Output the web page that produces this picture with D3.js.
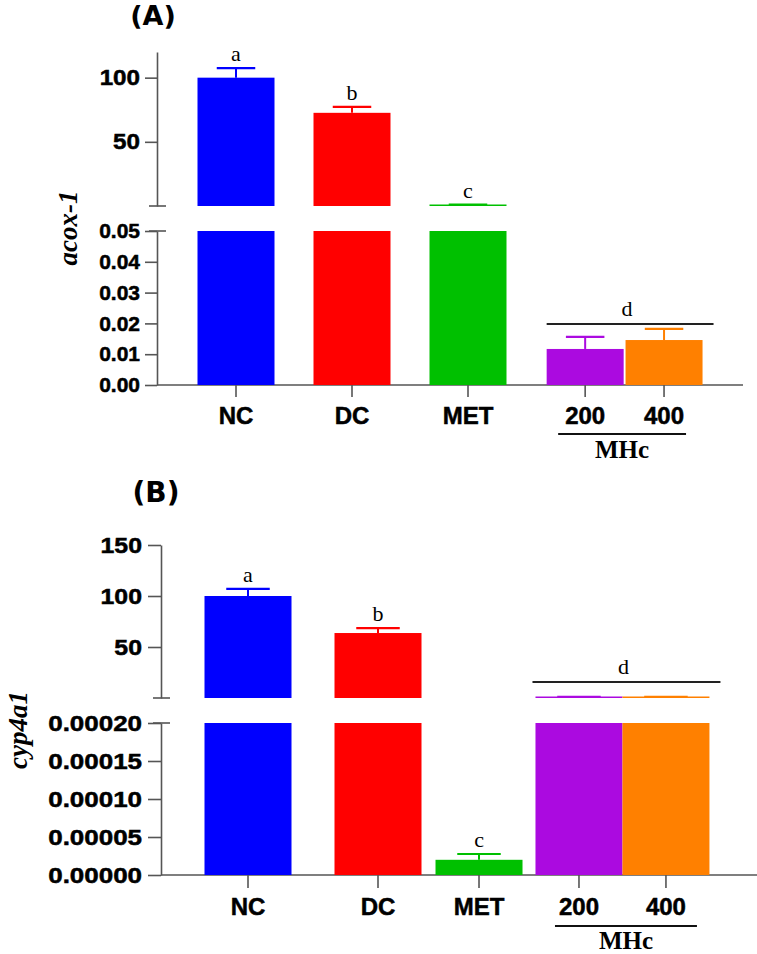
<!DOCTYPE html>
<html><head><meta charset="utf-8">
<script src="https://cdn.jsdelivr.net/npm/d3@7"></script>
<style>body{margin:0;background:#fff} svg{display:block}</style>
</head><body><svg id="c" width="757" height="954"></svg>
<script>
// ---------- data ----------
const categories = ["NC", "DC", "MET", "200", "400"];
const groupLabel = "MHc";
const barColors = ["#0000FF", "#FF0000", "#00C000", "#AB0AE0", "#FF8000"];

// Panel A: acox-1
const acoxValues = [100, 72.6, 0.3, 0.0117, 0.0146];
const acoxErrors = [7.5, 4.7, 0.8, 0.0039, 0.0036];
const acoxLetters = ["a", "b", "c"];
const acoxGroupLetter = "d";
const acoxGroupLineValue = 0.0198;      // on the lower segment
const acoxUpperTicks = [50, 100];
const acoxLowerTicks = [0, 0.01, 0.02, 0.03, 0.04, 0.05];

// Panel B: cyp4a1
const cypValues = [100, 63.7, 0.00002, 0.5, 0.5];
const cypErrors = [7, 4.9, 0.0000076, 0.6, 0.6];
const cypLetters = ["a", "b", "c"];
const cypGroupLetter = "d";
const cypGroupLineValue = 15.7;         // on the upper segment
const cypUpperTicks = [50, 100, 150];
const cypLowerTicks = [0, 0.00005, 0.0001, 0.00015, 0.0002];

// ---------- layout ----------
const panels = [
  {
    title: "(A)", titleX: 153, titleY: 25, titleSize: 27,
    ylabel: "acox-1", ylabelX: 77, ylabelY: 228,
    values: acoxValues, errors: acoxErrors, letters: acoxLetters,
    groupLetter: acoxGroupLetter, groupLineValue: acoxGroupLineValue, groupLineSeg: "lower",
    upperTicks: acoxUpperTicks, lowerTicks: acoxLowerTicks,
    upperFmt: d3.format("d"), lowerFmt: d3.format(".2f"),
    upperDomain: [0, 120], upperRange: [206, 52],
    lowerDomain: [0, 0.05], lowerRange: [385, 231],
    axisX: 157, axisRight: 743, tickLen: 12, tickPad: 5,
    upperFont: 22, upperStretch: 1.1, lowerFont: 21, lowerStretch: 1.0,
    slots: [0, 1, 2, 3.01, 3.69], slotRange: [236, 352], barW: 77,
    labelY: 424, groupLineExt: [0, 11], underlineExt: [-27, 22], underlineY: 434,
    groupTextY: 458
  },
  {
    title: "(B)", titleX: 156, titleY: 502, titleSize: 28,
    ylabel: "cyp4a1", ylabelX: 27, ylabelY: 730,
    values: cypValues, errors: cypErrors, letters: cypLetters,
    groupLetter: cypGroupLetter, groupLineValue: cypGroupLineValue, groupLineSeg: "upper",
    upperTicks: cypUpperTicks, lowerTicks: cypLowerTicks,
    upperFmt: d3.format("d"), lowerFmt: d3.format(".5f"),
    upperDomain: [0, 150], upperRange: [698, 545],
    lowerDomain: [0, 0.0002], lowerRange: [875, 723],
    axisX: 161, axisRight: 757, tickLen: 13, tickPad: 6,
    upperFont: 22, upperStretch: 1.13, lowerFont: 22, lowerStretch: 1.18,
    slots: [0, 1, 1.777, 2.546, 3.215], slotRange: [248, 378], barW: 87,
    labelY: 915, groupLineExt: [-3, 11], underlineExt: [-24, 31], underlineY: 926,
    groupTextY: 949
  }
];

const svg = d3.select("#c");
const axisColor = "#555";
const sansBold = "'Liberation Sans', Arial, sans-serif";
const serif = "'Liberation Serif', 'Times New Roman', serif";

panels.forEach(p => {
  const g = svg.append("g");
  const yU = d3.scaleLinear().domain(p.upperDomain).range(p.upperRange);
  const yL = d3.scaleLinear().domain(p.lowerDomain).range(p.lowerRange);
  const xs = d3.scaleLinear().domain([0, 1]).range(p.slotRange);
  const cx = i => xs(p.slots[i]);
  const lowerMax = p.lowerDomain[1];

  // title
  g.append("text").attr("x", p.titleX).attr("y", p.titleY)
    .attr("text-anchor", "middle")
    .style("font-family", "'DejaVu Sans', Verdana, sans-serif")
    .style("font-weight", "bold").style("font-size", p.titleSize + "px")
    .text(p.title);

  // y label
  g.append("text")
    .attr("transform", `translate(${p.ylabelX},${p.ylabelY}) rotate(-90)`)
    .attr("text-anchor", "middle")
    .style("font-family", serif).style("font-style", "italic")
    .style("font-weight", "bold").style("font-size", "27px")
    .text(p.ylabel);

  // y axes
  function drawY(scale, ticks, fmt, fontSize, stretch) {
    const ax = g.append("g").attr("transform", `translate(${p.axisX},0)`)
      .call(d3.axisLeft(scale).tickValues(ticks).tickFormat(fmt)
        .tickSize(p.tickLen).tickSizeOuter(0).tickPadding(p.tickPad));
    ax.select(".domain").attr("stroke", axisColor).attr("stroke-width", 1.6);
    ax.selectAll(".tick line").attr("stroke", axisColor).attr("stroke-width", 1.6);
    ax.selectAll(".tick text")
      .attr("fill", "#000").attr("stroke", "#000").attr("stroke-width", 0.5)
      .style("font-family", sansBold).style("font-weight", "bold")
      .style("font-size", fontSize + "px")
      .attr("x", -(p.tickLen + p.tickPad) / stretch)
      .attr("transform", `scale(${stretch},1)`);
    return ax;
  }
  drawY(yU, p.upperTicks, p.upperFmt, p.upperFont, p.upperStretch);
  drawY(yL, p.lowerTicks, p.lowerFmt, p.lowerFont, p.lowerStretch);

  // break marks
  g.append("line").attr("x1", p.axisX - 8).attr("x2", p.axisX + 9)
    .attr("y1", yU(p.upperDomain[0])).attr("y2", yU(p.upperDomain[0]))
    .attr("stroke", axisColor).attr("stroke-width", 1.6);
  g.append("line").attr("x1", p.axisX - 8).attr("x2", p.axisX + 9)
    .attr("y1", yL(lowerMax)).attr("y2", yL(lowerMax))
    .attr("stroke", axisColor).attr("stroke-width", 1.6);

  // x axis
  const baseY = yL(0);
  g.append("line").attr("x1", p.axisX).attr("x2", p.axisRight)
    .attr("y1", baseY).attr("y2", baseY)
    .attr("stroke", axisColor).attr("stroke-width", 1.6);
  categories.forEach((c, i) => {
    g.append("line").attr("x1", cx(i)).attr("x2", cx(i))
      .attr("y1", baseY).attr("y2", baseY + p.tickLen)
      .attr("stroke", axisColor).attr("stroke-width", 1.6);
    g.append("text").attr("x", cx(i)).attr("y", p.labelY)
      .attr("text-anchor", "middle")
      .attr("stroke", "#000").attr("stroke-width", 0.5)
      .style("font-family", sansBold).style("font-weight", "bold")
      .style("font-size", "24px").text(c);
  });

  // bars
  p.values.forEach((v, i) => {
    const col = barColors[i];
    const x0 = cx(i) - p.barW / 2;
    // lower segment
    const vl = Math.min(v, lowerMax);
    g.append("rect").attr("x", x0).attr("width", p.barW)
      .attr("y", yL(vl)).attr("height", yL(0) - yL(vl))
      .attr("fill", col);
    let ys = yL;
    if (v > lowerMax) {
      ys = yU;
      const top = Math.min(yU(v), yU(0) - 1.5);
      g.append("rect").attr("x", x0).attr("width", p.barW)
        .attr("y", top).attr("height", yU(0) - top)
        .attr("fill", col);
    }
    // error bar
    const e = p.errors[i];
    const yTop = ys(v + e);
    g.append("line").attr("x1", cx(i)).attr("x2", cx(i))
      .attr("y1", ys(v)).attr("y2", yTop)
      .attr("stroke", col).attr("stroke-width", 2);
    g.append("line").attr("x1", cx(i) - p.barW / 4).attr("x2", cx(i) + p.barW / 4)
      .attr("y1", yTop).attr("y2", yTop)
      .attr("stroke", col).attr("stroke-width", 2.2);
    // letters
    if (i < p.letters.length) {
      g.append("text").attr("x", cx(i)).attr("y", yTop - 7)
        .attr("text-anchor", "middle")
        .style("font-family", serif).style("font-size", "22px")
        .text(p.letters[i]);
    }
  });

  // group significance line
  const gy = (p.groupLineSeg === "upper" ? yU : yL)(p.groupLineValue);
  const gx1 = cx(3) - p.barW / 2 + p.groupLineExt[0];
  const gx2 = cx(4) + p.barW / 2 + p.groupLineExt[1];
  g.append("line").attr("x1", gx1).attr("x2", gx2).attr("y1", gy).attr("y2", gy)
    .attr("stroke", "#222").attr("stroke-width", 2);
  g.append("text").attr("x", (gx1 + gx2) / 2 - 3).attr("y", gy - 8)
    .attr("text-anchor", "middle")
    .style("font-family", serif).style("font-size", "22px")
    .text(p.groupLetter);

  // MHc underline + label
  const ux1 = cx(3) + p.underlineExt[0], ux2 = cx(4) + p.underlineExt[1];
  g.append("line").attr("x1", ux1).attr("x2", ux2)
    .attr("y1", p.underlineY).attr("y2", p.underlineY)
    .attr("stroke", "#111").attr("stroke-width", 2);
  g.append("text").attr("x", (ux1 + ux2) / 2).attr("y", p.groupTextY)
    .attr("text-anchor", "middle")
    .style("font-family", serif).style("font-weight", "bold")
    .style("font-size", "25px").text(groupLabel);
});
</script>
</body></html>
